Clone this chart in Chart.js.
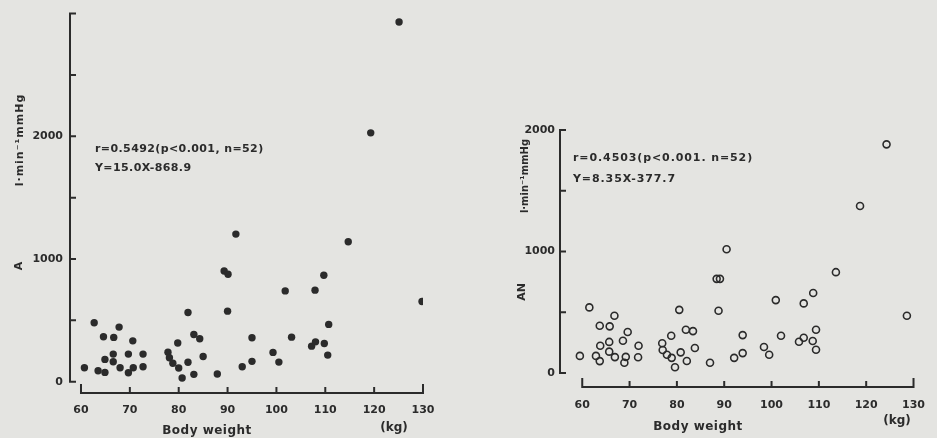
<!DOCTYPE html>
<html>
<head>
<meta charset="utf-8">
<script src="https://cdn.jsdelivr.net/npm/chart.js@4.4.0/dist/chart.umd.min.js"></script>
<style>
  body { margin: 0; background: #e4e4e1; }
  #wrap { position: relative; width: 937px; height: 438px; overflow: hidden; }
  .box { position: absolute; top: 0; height: 438px; }
  #left { left: 0; width: 470px; }
  #right { left: 470px; width: 467px; }
</style>
</head>
<body>
<div id="wrap">
  <div class="box" id="left"><canvas id="chartA"></canvas></div>
  <div class="box" id="right"><canvas id="chartAN"></canvas></div>
</div>
<script>
// valores (peso corporal en kg)
const weightA = [119.3, 125.1, 91.7, 114.7, 89.3, 90.1, 109.7, 101.8, 107.9, 129.8,
  81.9, 90.0, 62.7, 67.8, 110.7, 64.6, 66.7, 70.6, 83.1, 84.3,
  79.8, 95.0, 103.1, 109.8, 107.2, 108.0, 99.3, 110.5, 100.5, 95.0,
  93.0, 85.0, 81.9, 83.1, 80.7, 87.9, 60.7, 64.9, 66.6, 66.6,
  69.7, 72.7, 63.5, 64.9, 68.0, 69.7, 70.7, 72.7, 77.8, 78.1, 78.8, 80.0];
const valuesA = [2028, 2932, 1203, 1141, 902, 876, 868, 740, 746, 654,
  564, 575, 480, 445, 467, 366, 361, 333, 385, 350,
  315, 358, 363, 312, 290, 325, 239, 217, 160, 166,
  122, 206, 158, 60, 30, 63, 114, 182, 225, 163,
  225, 225, 89, 76, 114, 73, 114, 122, 240, 195, 150, 112];

const weightAN = [124.3, 118.7, 90.5, 113.6, 88.4, 89.1, 108.8, 100.9, 106.8, 61.5,
  80.5, 88.8, 128.6, 66.8, 63.7, 65.8, 69.6, 81.9, 83.4, 109.4,
  68.6, 78.8, 93.9, 102.0, 105.8, 106.8, 108.7, 65.7, 63.8, 71.9,
  76.9, 77.0, 83.8, 98.4, 59.5, 62.9, 63.7, 65.7, 66.9, 69.2,
  68.9, 71.8, 77.9, 78.9, 80.8, 79.6, 82.1, 87.0, 92.1, 93.9, 99.5, 109.4];
const valuesAN = [1882, 1375, 1019, 830, 775, 775, 658, 600, 573, 540,
  520, 512, 471, 471, 389, 384, 338, 356, 345, 356,
  266, 307, 312, 307, 258, 290, 263, 256, 225, 225,
  245, 190, 206, 214, 141, 141, 98, 176, 131, 133,
  84, 130, 151, 125, 170, 48, 99, 85, 125, 164, 151, 192];

const xTicks = [60, 70, 80, 90, 100, 110, 120, 130];
const yLabels = [0, 1000, 2000];
const yTicksA = [0, 500, 1000, 1500, 2000, 2500, 3000];
const yTicksAN = [0, 500, 1000, 1500, 2000];

const ink = '#2b2b2b';
const tickFont = { family: 'DejaVu Sans', weight: 'bold', size: 11 };

// Plugin que dibuja los ejes al estilo del papel y los textos
const paperAxes = {
  id: 'paperAxes',
  beforeDatasetsDraw(chart, args, o) {
    const { ctx, chartArea } = chart;
    const x = chart.scales.x, y = chart.scales.y;
    const x0 = chartArea.left, by = chartArea.bottom;
    ctx.save();
    ctx.strokeStyle = ink;
    ctx.lineWidth = 2;
    ctx.beginPath();
    // eje Y
    ctx.moveTo(x0, y.getPixelForValue(0));
    ctx.lineTo(x0, y.getPixelForValue(o.yTicks[o.yTicks.length - 1]));
    o.yTicks.forEach(v => {
      const py = y.getPixelForValue(v);
      ctx.moveTo(x0 - 1, py);
      ctx.lineTo(x0 + 6, py);
    });
    // eje X (separado)
    ctx.moveTo(x.getPixelForValue(xTicks[0]), by);
    ctx.lineTo(x.getPixelForValue(xTicks[xTicks.length - 1]), by);
    xTicks.forEach((v, i) => {
      const px = x.getPixelForValue(v);
      const len = (i === 0 || i === xTicks.length - 1) ? 9 : 6;
      ctx.moveTo(px, by + 1);
      ctx.lineTo(px, by - len);
    });
    ctx.stroke();

    // textos
    ctx.fillStyle = ink;
    ctx.textBaseline = 'middle';
    o.texts.forEach(t => {
      ctx.save();
      ctx.font = t.font;
      ctx.letterSpacing = t.spacing || '0px';
      ctx.textAlign = t.align || 'left';
      ctx.translate(t.x, t.y);
      if (t.rot) ctx.rotate(-Math.PI / 2);
      ctx.fillText(t.text, 0, 0);
      ctx.restore();
    });
    ctx.restore();
  }
};

function makeChart(id, weights, values, cfg) {
  const points = weights.map((w, i) => ({ x: w, y: values[i] }));
  return new Chart(document.getElementById(id), {
    type: 'scatter',
    data: {
      datasets: [{
        data: points,
        pointRadius: cfg.radius,
        pointHoverRadius: cfg.radius,
        backgroundColor: cfg.filled ? ink : 'rgba(0,0,0,0)',
        borderColor: ink,
        borderWidth: cfg.filled ? 0 : 1.6
      }]
    },
    options: {
      responsive: true,
      maintainAspectRatio: false,
      animation: false,
      layout: { padding: cfg.padding },
      scales: {
        x: {
          type: 'linear',
          min: cfg.xMin,
          max: 130,
          afterBuildTicks: s => { s.ticks = xTicks.map(v => ({ value: v })); },
          afterFit: s => { s.height = cfg.xHeight; },
          grid: { display: false, drawTicks: false },
          border: { display: false },
          ticks: { color: ink, font: tickFont, padding: cfg.xPad, autoSkip: false, maxRotation: 0,
                   callback: v => String(v) }
        },
        y: {
          type: 'linear',
          min: cfg.yMin,
          max: cfg.yMax,
          afterBuildTicks: s => { s.ticks = yLabels.map(v => ({ value: v })); },
          afterFit: s => { s.width = cfg.yWidth; },
          grid: { display: false, drawTicks: false },
          border: { display: false },
          ticks: { color: ink, font: tickFont, padding: cfg.yPad, callback: v => String(v) }
        }
      },
      plugins: {
        legend: { display: false },
        tooltip: { enabled: false },
        paperAxes: { yTicks: cfg.yTicks, texts: cfg.texts }
      }
    },
    plugins: [paperAxes]
  });
}

const noteFont = 'bold 11px "DejaVu Sans"';
const titleFont = 'bold 12px "DejaVu Sans"';

makeChart('chartA', weightA, valuesA, {
  filled: true, radius: 3.7,
  xMin: 57.75, yMin: -92, yMax: 3000,
  padding: { top: 13, right: 47, left: 0, bottom: 0 },
  xHeight: 45, yWidth: 70, xPad: 11, yPad: 7,
  yTicks: yTicksA,
  texts: [
    { text: 'r=0.5492(p<0.001, n=52)', x: 95, y: 149, font: noteFont, spacing: '0.4px' },
    { text: 'Y=15.0X-868.9', x: 95, y: 168, font: noteFont, spacing: '0.4px' },
    { text: 'Body weight', x: 207, y: 431, font: titleFont, align: 'center', spacing: '0.5px' },
    { text: '(kg)', x: 394, y: 428, font: titleFont, align: 'center' },
    { text: 'l·min⁻¹mmHg', x: 20, y: 140, font: 'bold 11px "DejaVu Sans"', align: 'center', rot: true, spacing: '1px' },
    { text: 'A', x: 19, y: 266, font: 'bold 11px "DejaVu Sans"', align: 'center', rot: true }
  ]
});

makeChart('chartAN', weightAN, valuesAN, {
  filled: false, radius: 3.5,
  xMin: 55.3, yMin: -115, yMax: 2000,
  padding: { top: 130, right: 10, left: 0, bottom: 0 },
  xHeight: 51, yWidth: 90, xPad: 12, yPad: 5,
  yTicks: yTicksAN,
  texts: [
    { text: 'r=0.4503(p<0.001. n=52)', x: 103, y: 158, font: noteFont, spacing: '0.9px' },
    { text: 'Y=8.35X-377.7', x: 103, y: 179, font: noteFont, spacing: '0.9px' },
    { text: 'Body weight', x: 228, y: 427, font: titleFont, align: 'center', spacing: '0.5px' },
    { text: '(kg)', x: 427, y: 421, font: titleFont, align: 'center' },
    { text: 'l·min⁻¹mmHg', x: 55, y: 176, font: 'bold 10px "DejaVu Sans"', align: 'center', rot: true },
    { text: 'AN', x: 52, y: 292, font: 'bold 11px "DejaVu Sans"', align: 'center', rot: true }
  ]
});
</script>
</body>
</html>
